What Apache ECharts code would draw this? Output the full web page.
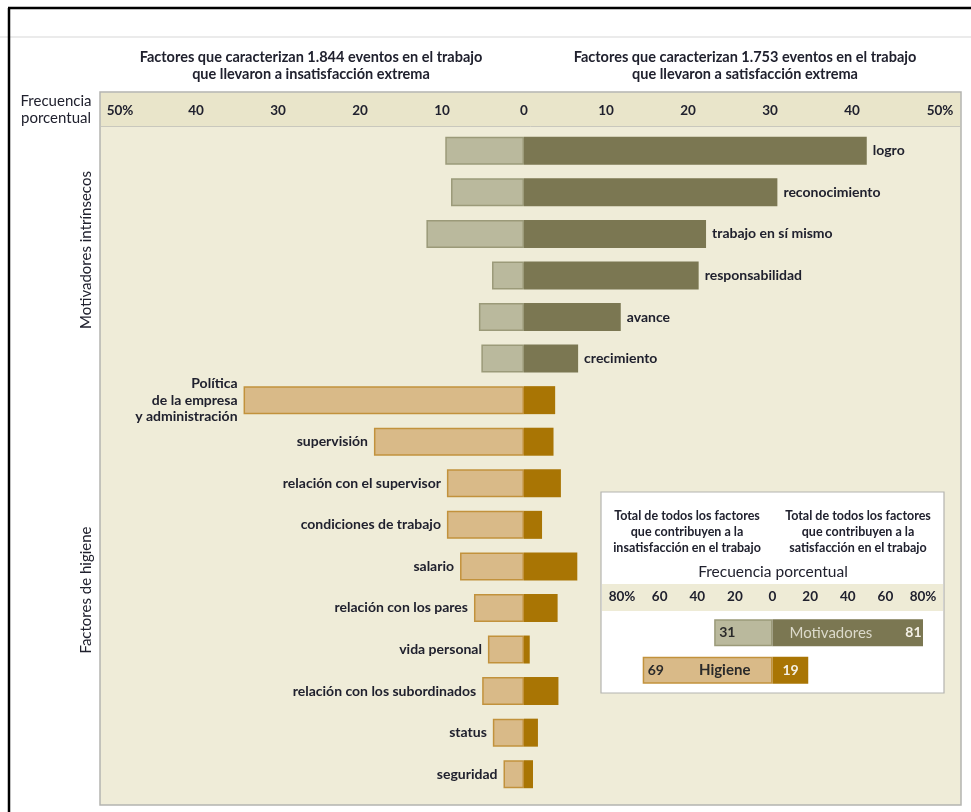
<!DOCTYPE html>
<html><head><meta charset="utf-8">
<script src="https://cdn.jsdelivr.net/npm/echarts@6/dist/echarts.min.js"></script>
<style>html,body{margin:0;padding:0;background:#fff}#c{width:971px;height:812px}</style>
</head><body><div id="c"></div>
<script>
// ---- data ----
const categories = ['logro','reconocimiento','trabajo en sí mismo','responsabilidad','avance','crecimiento',
  'Política\nde la empresa\ny administración','supervisión','relación con el supervisor','condiciones de trabajo',
  'salario','relación con los pares','vida personal','relación con los subordinados','status','seguridad'];
const groups = ['m','m','m','m','m','m','h','h','h','h','h','h','h','h','h','h'];
const dissatisfaction = [9.6, 8.9, 11.9, 3.9, 5.5, 5.2, 34.2, 18.3, 9.4, 9.4, 7.8, 6.1, 4.4, 5.1, 3.8, 2.5];
const satisfaction    = [41.8, 30.9, 22.2, 21.3, 11.8, 6.6, 3.8, 3.6, 4.5, 2.2, 6.5, 4.1, 0.7, 4.2, 1.7, 1.1];
const mainTicks = [-50,-40,-30,-20,-10,0,10,20,30,40,50];

const totalCats = ['Motivadores','Higiene'];
const totalDis = [31, 69];
const totalSat = [81, 19];
const totalTicks = [-80,-60,-40,-20,0,20,40,60,80];

// ---- styles ----
const FONT = 'Lato';
const TXT = '#20212e';
const mLight = {color:'#bab99d', borderColor:'#9b9a79', borderWidth:1.5};
const mDark  = {color:'#7b7752'};
const hLight = {color:'#d9ba88', borderColor:'#c2923c', borderWidth:1.5};
const hDark  = {color:'#a97504'};

const leftData = dissatisfaction.map((v,i)=>({
  value:-v,
  itemStyle: groups[i]==='m'?mLight:hLight,
  label: groups[i]==='h'?{show:true, position:'left', distance:6, formatter:'{b}', color:TXT, fontFamily:FONT, fontSize:14, fontWeight:'bold', lineHeight:16.5, align:'right'}:{show:false}
}));
const rightData = satisfaction.map((v,i)=>({
  value:v,
  itemStyle: groups[i]==='m'?mDark:hDark,
  label: groups[i]==='m'?{show:true, position:'right', distance:6, formatter:'{b}', color:TXT, fontFamily:FONT, fontSize:14, fontWeight:'bold'}:{show:false}
}));

const tDisData = totalDis.map((v,i)=>({
  value:-v,
  itemStyle: i===0?mLight:hLight,
  label: {show:true, position:'insideLeft', distance:5,
    formatter: i===0 ? (p)=>'{v|'+Math.abs(p.value)+'}' : (p)=>'{v|'+Math.abs(p.value)+'}{n|'+p.name+'}',
    rich:{v:{color:'#2a2a2a', fontFamily:FONT, fontSize:14, fontWeight:'bold'},
          n:{color:'#2a2a2a', fontFamily:FONT, fontSize:15, fontWeight:'bold', padding:[0,0,0,35]}}}
}));
const tSatData = totalSat.map((v,i)=>({
  value:v,
  itemStyle: i===0?mDark:hDark,
  label: {show:true, position:'insideLeft', distance: i===0?5:10,
    formatter: i===0 ? (p)=>'{n|'+p.name+'}{v|'+p.value+'}' : (p)=>'{v|'+p.value+'}',
    rich:{v:{color:'#f4f1e6', fontFamily:FONT, fontSize:14, fontWeight:'bold', padding: i===0?[0,0,0,33]:0},
          n:{color:'#dcdacb', fontFamily:FONT, fontSize:15, padding:[0,0,0,12]}}}
}));

function tickFmt(max){
  return function(v){ const a=Math.abs(v); return a===max ? '{p|'+a+'%}' : String(a); };
}

const chart = echarts.init(document.getElementById('c'));
const hdr = {fontFamily:FONT, fontSize:14.5, fontWeight:'bold', fill:TXT, textAlign:'center', textVerticalAlign:'middle'};
const side = {fontFamily:FONT, fontSize:15, fill:TXT, textAlign:'center', textVerticalAlign:'middle'};
chart.setOption({
  animation:false,
  backgroundColor:'#ffffff',
  graphic:[
    {type:'line', z:-20, shape:{x1:0,y1:37,x2:971,y2:37}, style:{stroke:'#e4e4e4', lineWidth:1.5}},
    {type:'line', z:-20, shape:{x1:8,y1:8,x2:971,y2:8}, style:{stroke:'#000', lineWidth:2.5}},
    {type:'line', z:-20, shape:{x1:9,y1:8,x2:9,y2:812}, style:{stroke:'#000', lineWidth:2.5}},
    {type:'rect', z:-20, shape:{x:100,y:92,width:861,height:713}, style:{fill:'#efecd8', stroke:'#b4b4b0', lineWidth:1.5}},
    {type:'rect', z:-19, shape:{x:101,y:93,width:859,height:33}, style:{fill:'#e9e5ca'}},
    {type:'line', z:-19, shape:{x1:101,y1:126.5,x2:960,y2:126.5}, style:{stroke:'#c9c8bd', lineWidth:1}},
    {type:'text', z:5, style:Object.assign({x:311,y:57,text:'Factores que caracterizan 1.844 eventos en el trabajo'},hdr)},
    {type:'text', z:5, style:Object.assign({x:311,y:74,text:'que llevaron a insatisfacción extrema'},hdr)},
    {type:'text', z:5, style:Object.assign({x:745,y:57,text:'Factores que caracterizan 1.753 eventos en el trabajo'},hdr)},
    {type:'text', z:5, style:Object.assign({x:745,y:74,text:'que llevaron a satisfacción extrema'},hdr)},
    {type:'text', z:5, style:Object.assign({x:56,y:101,text:'Frecuencia'},side)},
    {type:'text', z:5, style:Object.assign({x:56,y:118,text:'porcentual'},side)},
    {type:'text', z:5, x:86, y:250, rotation:Math.PI/2, style:Object.assign({x:0,y:0,text:'Motivadores intrínsecos'},side)},
    {type:'text', z:5, x:86, y:590, rotation:Math.PI/2, style:Object.assign({x:0,y:0,text:'Factores de higiene'},side)},
    // inset box
    {type:'rect', z:-10, shape:{x:601,y:492,width:343,height:201}, style:{fill:'#ffffff', stroke:'#b4b4b0', lineWidth:1.2}},
    {type:'rect', z:-9, shape:{x:602,y:584,width:341,height:27}, style:{fill:'#eeebd6'}},
    {type:'text', z:5, style:{x:687,y:532,text:'Total de todos los factores\nque contribuyen a la\ninsatisfacción en el trabajo', fontFamily:FONT, fontSize:12.5, fontWeight:'bold', lineHeight:16, fill:TXT, textAlign:'center', textVerticalAlign:'middle'}},
    {type:'text', z:5, style:{x:858,y:532,text:'Total de todos los factores\nque contribuyen a la\nsatisfacción en el trabajo', fontFamily:FONT, fontSize:12.5, fontWeight:'bold', lineHeight:16, fill:TXT, textAlign:'center', textVerticalAlign:'middle'}},
    {type:'text', z:5, style:{x:773,y:572,text:'Frecuencia porcentual', fontFamily:FONT, fontSize:15.5, fill:TXT, textAlign:'center', textVerticalAlign:'middle'}}
  ],
  grid:[
    {left:114, width:820, top:130, height:665},
    {left:622, width:301, top:614, height:75}
  ],
  xAxis:[
    {type:'value', gridIndex:0, position:'top', min:-50, max:50, interval:10,
     axisLine:{show:false}, axisTick:{show:false}, splitLine:{show:false},
     axisLabel:{margin:12, formatter:tickFmt(50), color:TXT, fontFamily:FONT, fontSize:13.5, fontWeight:'bold',
       rich:{p:{color:TXT, fontFamily:FONT, fontSize:13.5, fontWeight:'bold', padding:[0,0,0,12]}}}},
    {type:'value', gridIndex:1, position:'top', min:-80, max:80, interval:20,
     axisLine:{show:false}, axisTick:{show:false}, splitLine:{show:false},
     axisLabel:{margin:10, formatter:tickFmt(80), color:TXT, fontFamily:FONT, fontSize:13.5, fontWeight:'bold',
       rich:{p:{color:TXT, fontFamily:FONT, fontSize:13.5, fontWeight:'bold'}}}}
  ],
  yAxis:[
    {type:'category', gridIndex:0, inverse:true, data:categories, show:false},
    {type:'category', gridIndex:1, inverse:true, data:totalCats, show:false}
  ],
  series:[
    {type:'bar', name:'insatisfacción', xAxisIndex:0, yAxisIndex:0, stack:'main', barWidth:28, data:leftData, z:3},
    {type:'bar', name:'satisfacción', xAxisIndex:0, yAxisIndex:0, stack:'main', barWidth:28, data:rightData, z:3},
    {type:'bar', name:'total insatisfacción', xAxisIndex:1, yAxisIndex:1, stack:'tot', barWidth:27, data:tDisData, z:3},
    {type:'bar', name:'total satisfacción', xAxisIndex:1, yAxisIndex:1, stack:'tot', barWidth:27, data:tSatData, z:3}
  ]
});
</script></body></html>
